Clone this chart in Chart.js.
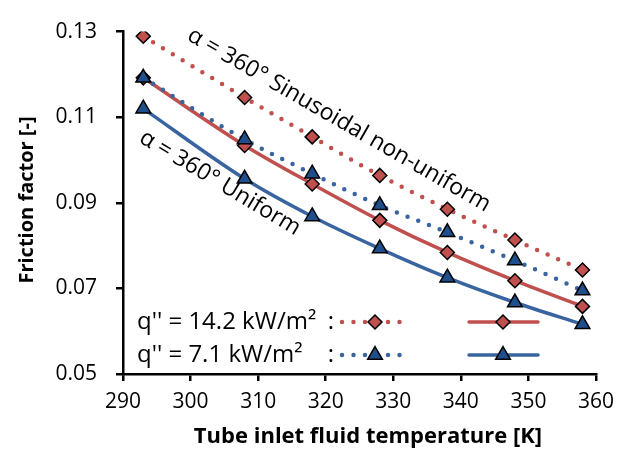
<!DOCTYPE html>
<html>
<head>
<meta charset="utf-8">
<script src="https://cdn.jsdelivr.net/npm/chart.js@4"></script>
<style>
  html, body { margin: 0; padding: 0; background: #fff; }
  canvas { display: block; }
</style>
</head>
<body>
<canvas id="chart" width="630" height="452"></canvas>
<script>
// --- data ---
const temps = [293, 308, 318, 328, 338, 348, 358];

const sinus14 = [0.1289, 0.1146, 0.1054, 0.0964, 0.0885, 0.0813, 0.0743];   // red dotted
const sinus7  = [0.1192, 0.1048, 0.0968, 0.0894, 0.0831, 0.0765, 0.0695];   // blue dotted
const unif14  = [0.1192, 0.1034, 0.0944, 0.0859, 0.0784, 0.0718, 0.0658];   // red solid
const unif7   = [0.1120, 0.0956, 0.0868, 0.0793, 0.0725, 0.0667, 0.0616];   // blue solid

const xTicks = [290, 300, 310, 320, 330, 340, 350, 360];
const yTicks = [0.05, 0.07, 0.09, 0.11, 0.13];

const RED = '#C0504D';
const BLUE_LINE = '#3A64A0';
const BLUE_FILL = '#1F4E8C';
const FONT = '"Open Sans", Lato, sans-serif';

const pts = vals => vals.map((v, i) => ({ x: temps[i], y: v }));

function series(label, vals, color, fill, style, dotted) {
  return {
    label,
    data: pts(vals),
    borderColor: color,
    backgroundColor: fill,
    borderWidth: dotted ? 4.5 : 3.5,
    borderDash: dotted ? [0, 11.5] : [],
    borderCapStyle: 'round',
    cubicInterpolationMode: 'monotone',
    pointStyle: style,
    pointRadius: style === 'triangle' ? 8.5 : 7,
    pointBorderColor: '#000',
    pointBorderWidth: 1.5,
    pointBackgroundColor: fill,
    fill: false
  };
}

// legend + labels drawn on top
const overlay = {
  id: 'overlay',
  afterDraw(chart) {
    const ctx = chart.ctx;
    const H = Chart.helpers;
    ctx.save();

    // axis titles
    ctx.fillStyle = '#000';
    ctx.font = 'bold 22px ' + FONT;
    ctx.textAlign = 'center';
    ctx.textBaseline = 'middle';
    ctx.fillText('Tube inlet fluid temperature [K]', 368, 437);
    ctx.font = 'bold 20px ' + FONT;
    ctx.save();
    ctx.translate(27, 200);
    ctx.rotate(-Math.PI / 2);
    ctx.fillText('Friction factor [-]', 0, 0);
    ctx.restore();

    // rotated series notes
    ctx.font = '23px ' + FONT;
    ctx.save();
    ctx.translate(339, 120);
    ctx.rotate(30 * Math.PI / 180);
    ctx.fillText('\u03B1 = 360\u00B0 Sinusoidal non-uniform', 0, 0);
    ctx.restore();
    ctx.save();
    ctx.translate(220, 183);
    ctx.rotate(31 * Math.PI / 180);
    ctx.fillText('\u03B1 = 360\u00B0 Uniform', 0, 0);
    ctx.restore();

    // custom legend
    const rows = [
      { text: "q'' = 14.2 kW/m\u00B2", y: 322, color: RED, fill: RED, style: 'rectRot', r: 7 },
      { text: "q'' = 7.1 kW/m\u00B2", y: 355, color: BLUE_LINE, fill: BLUE_FILL, style: 'triangle', r: 8.5 }
    ];
    rows.forEach(row => {
      ctx.fillStyle = '#000';
      ctx.font = '24px ' + FONT;
      ctx.textAlign = 'left';
      ctx.textBaseline = 'middle';
      ctx.fillText(row.text, 137, row.y);
      ctx.textAlign = 'center';
      ctx.fillText(':', 331, row.y);

      ctx.strokeStyle = row.color;
      ctx.lineCap = 'round';
      // dotted sample
      ctx.lineWidth = 4.5;
      ctx.setLineDash([0, 11.5]);
      ctx.beginPath();
      ctx.moveTo(342, row.y);
      ctx.lineTo(402, row.y);
      ctx.stroke();
      // solid sample
      ctx.setLineDash([]);
      ctx.lineWidth = 3.5;
      ctx.beginPath();
      ctx.moveTo(469, row.y);
      ctx.lineTo(538, row.y);
      ctx.stroke();

      ctx.fillStyle = row.fill;
      ctx.strokeStyle = '#000';
      ctx.lineWidth = 1.5;
      [375, 503].forEach(x => {
        H.drawPoint(ctx, { pointStyle: row.style, radius: row.r, borderWidth: 1.5, rotation: 0 }, x, row.y);
      });
    });
    ctx.restore();
  }
};

new Chart(document.getElementById('chart'), {
  type: 'line',
  data: {
    datasets: [
      series('Sinusoidal 14.2', sinus14, RED, RED, 'rectRot', true),
      series('Uniform 7.1', unif7, BLUE_LINE, BLUE_FILL, 'triangle', false),
      series('Sinusoidal 7.1', sinus7, BLUE_LINE, BLUE_FILL, 'triangle', true),
      series('Uniform 14.2', unif14, RED, RED, 'rectRot', false)
    ]
  },
  options: {
    responsive: false,
    animation: false,
    devicePixelRatio: 1,
    layout: { padding: { left: 0, right: 34, top: 20, bottom: 0 } },
    plugins: {
      legend: { display: false },
      tooltip: { enabled: false }
    },
    scales: {
      x: {
        type: 'linear',
        min: xTicks[0],
        max: xTicks[xTicks.length - 1],
        afterBuildTicks: s => { s.ticks = xTicks.map(v => ({ value: v })); },
        afterFit: s => { s.height = 78; },
        border: { color: '#000', width: 2.5 },
        grid: { drawOnChartArea: false, tickLength: 7, tickColor: '#000', tickWidth: 2.5, lineWidth: 2.5 },
        ticks: { color: '#000', font: { family: FONT, size: 21 }, padding: 8, maxRotation: 0 }
      },
      y: {
        min: yTicks[0],
        max: yTicks[yTicks.length - 1],
        afterBuildTicks: s => { s.ticks = yTicks.map(v => ({ value: v })); },
        afterFit: s => { s.width = 123; },
        border: { color: '#000', width: 2.5 },
        grid: { drawOnChartArea: false, tickLength: 7, tickColor: '#000', tickWidth: 2.5, lineWidth: 2.5 },
        ticks: {
          color: '#000',
          font: { family: FONT, size: 21 },
          padding: 19,
          callback: v => v.toFixed(2)
        }
      }
    }
  },
  plugins: [overlay]
});
</script>
</body>
</html>
